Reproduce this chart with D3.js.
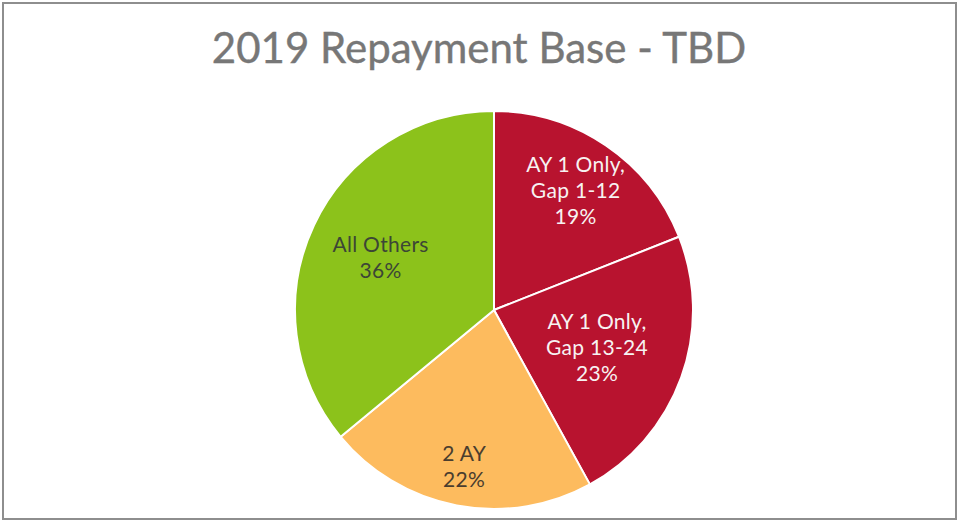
<!DOCTYPE html>
<html>
<head>
<meta charset="utf-8">
<script src="https://cdn.jsdelivr.net/npm/d3@7"></script>
<style>
  html, body { margin: 0; padding: 0; background: #fff; }
  svg { display: block; }
</style>
</head>
<body>
<svg id="chart" width="959" height="522"></svg>
<script>
// Repayment base breakdown, 2019
const categories = [
  ["AY 1 Only,", "Gap 1-12"],
  ["AY 1 Only,", "Gap 13-24"],
  ["2 AY"],
  ["All Others"]
];
const values = [19, 23, 22, 36];
const sliceColors = ["#B8132F", "#B8132F", "#FDBB5E", "#8CC21B"];
const labelColors = ["#F7F2F2", "#F7F2F2", "#4A3D2E", "#3C4636"];
// radial placement of each label as a fraction of the radius
const labelRadius = [0.73, 0.55, 0.8, 0.63];

const title = "2019 Repayment Base - TBD";

const W = 959, H = 522;
const cx = 494, cy = 310, R = 199;

const svg = d3.select("#chart");

// outer frame
svg.append("rect")
  .attr("x", 3).attr("y", 3)
  .attr("width", W - 6).attr("height", H - 6)
  .attr("fill", "#fff")
  .attr("stroke", "#8E8E8E")
  .attr("stroke-width", 2);

svg.append("text")
  .attr("x", 479).attr("y", 63)
  .attr("text-anchor", "middle")
  .attr("font-family", "Lato, 'Open Sans', sans-serif")
  .attr("font-size", 42)
  .attr("fill", "#777777")
  .attr("stroke", "#777777")
  .attr("stroke-width", 0.4)
  .text(title);

const data = values.map((v, i) => ({ v, i }));
const pie = d3.pie().value(d => d.v).sort(null);
const arcs = pie(data);
const arc = d3.arc().innerRadius(0).outerRadius(R);

const g = svg.append("g").attr("transform", `translate(${cx},${cy})`);

g.selectAll("path.slice")
  .data(arcs)
  .join("path")
  .attr("class", "slice")
  .attr("d", arc)
  .attr("fill", d => sliceColors[d.data.i])
  .attr("stroke", "#fff")
  .attr("stroke-width", 2)
  .attr("stroke-linejoin", "round");

const lineH = 26;
const labels = g.selectAll("text.lbl")
  .data(arcs)
  .join("text")
  .attr("class", "lbl")
  .attr("text-anchor", "middle")
  .attr("font-family", "Lato, 'Open Sans', sans-serif")
  .attr("font-size", 21)
  .attr("letter-spacing", 0.3)
  .attr("fill", d => labelColors[d.data.i])
  .attr("transform", d => {
    const a = (d.startAngle + d.endAngle) / 2;
    const r = R * labelRadius[d.data.i];
    return `translate(${r * Math.sin(a)},${-r * Math.cos(a)})`;
  });

labels.each(function(d) {
  const lines = categories[d.data.i].concat([d3.format(".0f")(d.data.v) + "%"]);
  const t = d3.select(this);
  const y0 = -((lines.length - 1) * lineH) / 2 + 8;
  lines.forEach((s, k) => {
    t.append("tspan").attr("x", 0).attr("y", y0 + k * lineH).text(s);
  });
});
</script>
</body>
</html>
